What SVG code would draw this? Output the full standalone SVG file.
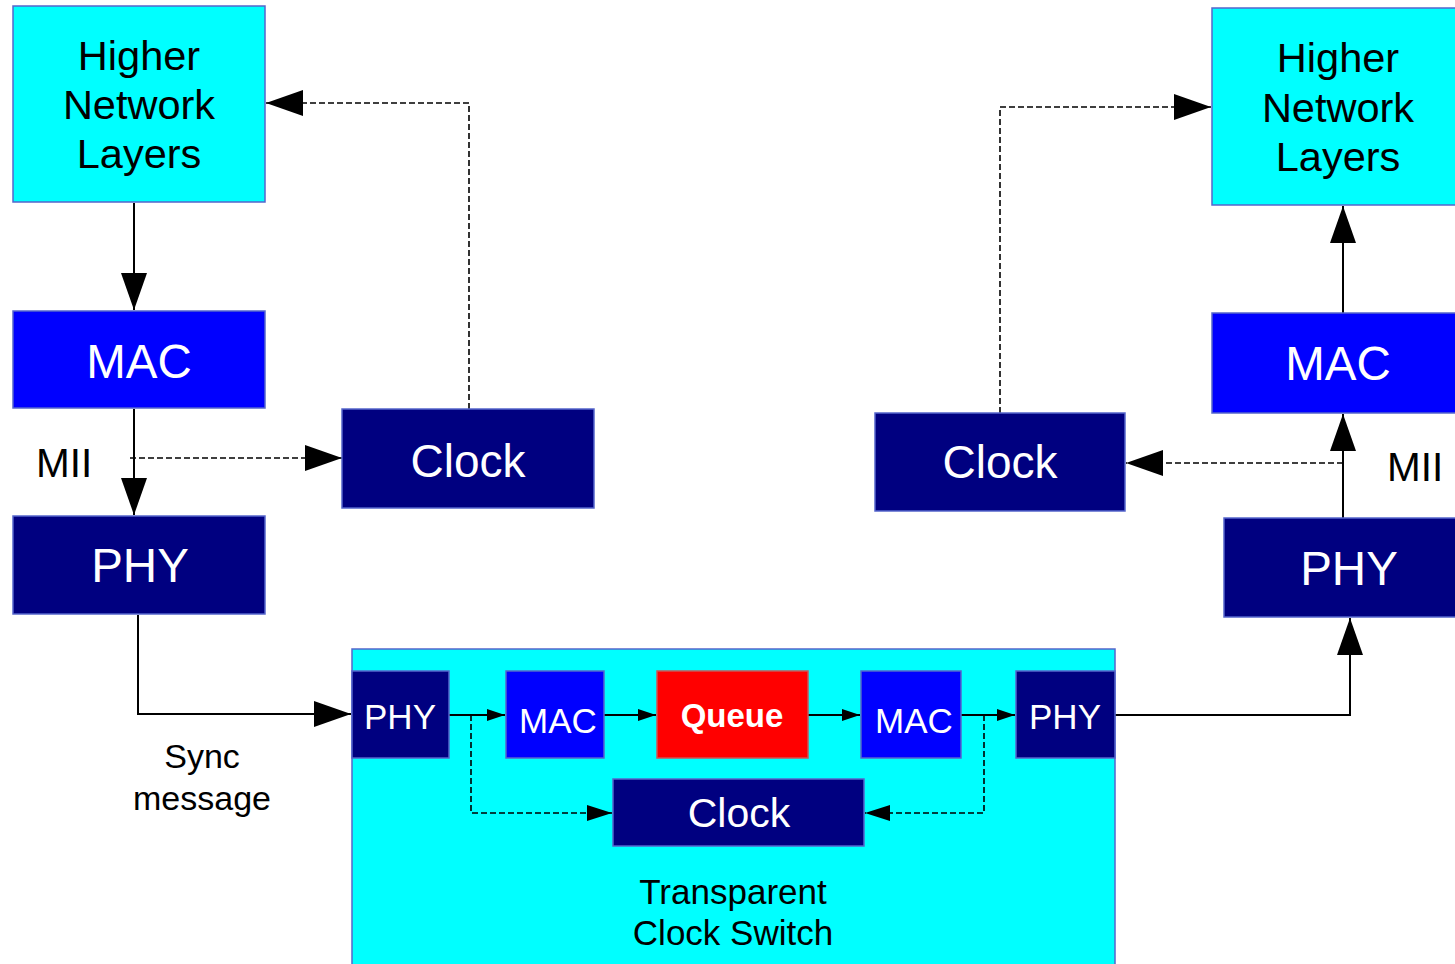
<svg xmlns="http://www.w3.org/2000/svg" width="1455" height="964" viewBox="0 0 1455 964">
<style>
  .cyan{fill:#00FFFF;stroke:#5566cc;stroke-width:1.5}
  .blue{fill:#0000FF;stroke:#5566cc;stroke-width:1.5}
  .navy{fill:#000080;stroke:#5566cc;stroke-width:1.5}
  .red{fill:#FF0000;stroke:#cc5555;stroke-width:1.5}
  text{font-family:"Liberation Sans",Arial,sans-serif;text-anchor:middle}
  .w{fill:#FFFFFF}
  .k{fill:#000000}
  .solid{fill:none;stroke:#000;stroke-width:2}
  .dash{fill:none;stroke:#000;stroke-width:1.6;stroke-dasharray:6 3}
</style>
<defs>
  <marker id="big" markerUnits="userSpaceOnUse" markerWidth="38" markerHeight="26" refX="37" refY="13" orient="auto">
    <path d="M0,0 L37,13 L0,26 z" fill="#000"/>
  </marker>
  <marker id="med" markerUnits="userSpaceOnUse" markerWidth="26" markerHeight="17" refX="25" refY="8" orient="auto">
    <path d="M0,0 L25,8 L0,16 z" fill="#000"/>
  </marker>
  <marker id="sm" markerUnits="userSpaceOnUse" markerWidth="19" markerHeight="12" refX="18" refY="6" orient="auto">
    <path d="M0,0 L18,6 L0,12 z" fill="#000"/>
  </marker>
</defs>
<rect width="1455" height="964" fill="#FFFFFF"/>

<g id="switch">
  <rect class="cyan" x="352" y="649" width="763" height="330"/>
  <text class="k" x="733" y="904" font-size="35">Transparent</text>
  <text class="k" x="733" y="945" font-size="35">Clock Switch</text>
</g>

<g id="connectors">
  <path class="solid" d="M134,203 V310" marker-end="url(#big)"/>
  <path class="solid" d="M134,409 V515" marker-end="url(#big)"/>
  <path class="dash" d="M130,458 H342" marker-end="url(#big)"/>
  <path class="dash" d="M469,409 V103 H266" marker-end="url(#big)"/>
  <path class="solid" d="M138,615 V714 H351" marker-end="url(#big)"/>
  <path class="solid" d="M449,715 H505" marker-end="url(#sm)"/>
  <path class="solid" d="M604,715 H656" marker-end="url(#sm)"/>
  <path class="solid" d="M808,715 H860" marker-end="url(#sm)"/>
  <path class="solid" d="M961,715 H1015" marker-end="url(#sm)"/>
  <path class="dash" d="M471,715 V813 H612" marker-end="url(#med)"/>
  <path class="dash" d="M984,715 V813 H865" marker-end="url(#med)"/>
  <path class="solid" d="M1115,715 H1350 V618" marker-end="url(#big)"/>
  <path class="solid" d="M1343,518 V414" marker-end="url(#big)"/>
  <path class="solid" d="M1343,313 V206" marker-end="url(#big)"/>
  <path class="dash" d="M1343,463 H1126" marker-end="url(#big)"/>
  <path class="dash" d="M1000,413 V107 H1211" marker-end="url(#big)"/>
</g>

<g id="hnl-left">
  <rect class="cyan" x="13" y="6" width="252" height="196"/>
  <text class="k" x="139" y="70" font-size="41.5">Higher</text>
  <text class="k" x="139" y="119" font-size="41.5">Network</text>
  <text class="k" x="139" y="168" font-size="41.5">Layers</text>
</g>
<g id="mac-left">
  <rect class="blue" x="13" y="311" width="252" height="97"/>
  <text class="w" x="139" y="378" font-size="47.5">MAC</text>
</g>
<g id="phy-left">
  <rect class="navy" x="13" y="516" width="252" height="98"/>
  <text class="w" x="140" y="582" font-size="47.5">PHY</text>
</g>
<g id="clock-left">
  <rect class="navy" x="342" y="409" width="252" height="99"/>
  <text class="w" x="468" y="477" font-size="46">Clock</text>
</g>
<g id="mii-left">
  <text class="k" x="36" y="477" font-size="40.5" style="text-anchor:start">MII</text>
</g>
<g id="sync-label">
  <text class="k" x="202" y="768" font-size="34">Sync</text>
  <text class="k" x="202" y="810" font-size="34">message</text>
</g>

<g id="sw-phy1">
  <rect class="navy" x="352" y="671" width="97" height="87"/>
  <text class="w" x="400" y="729" font-size="35">PHY</text>
</g>
<g id="sw-mac1">
  <rect class="blue" x="506" y="671" width="98" height="87"/>
  <text class="w" x="558" y="733" font-size="35">MAC</text>
</g>
<g id="sw-queue">
  <rect class="red" x="657" y="671" width="151" height="87"/>
  <text class="w" x="732" y="727" font-size="33" font-weight="bold">Queue</text>
</g>
<g id="sw-mac2">
  <rect class="blue" x="861" y="671" width="100" height="87"/>
  <text class="w" x="914" y="733" font-size="35">MAC</text>
</g>
<g id="sw-phy2">
  <rect class="navy" x="1016" y="671" width="99" height="87"/>
  <text class="w" x="1065" y="729" font-size="35">PHY</text>
</g>
<g id="sw-clock">
  <rect class="navy" x="613" y="779" width="251" height="67"/>
  <text class="w" x="739" y="827" font-size="41">Clock</text>
</g>

<g id="hnl-right">
  <rect class="cyan" x="1212" y="8" width="252" height="197"/>
  <text class="k" x="1338" y="72" font-size="41.5">Higher</text>
  <text class="k" x="1338" y="121.5" font-size="41.5">Network</text>
  <text class="k" x="1338" y="170.5" font-size="41.5">Layers</text>
</g>
<g id="mac-right">
  <rect class="blue" x="1212" y="313" width="252" height="100"/>
  <text class="w" x="1338" y="380" font-size="47.5">MAC</text>
</g>
<g id="phy-right">
  <rect class="navy" x="1224" y="518" width="252" height="99"/>
  <text class="w" x="1349" y="585" font-size="47.5">PHY</text>
</g>
<g id="clock-right">
  <rect class="navy" x="875" y="413" width="250" height="98"/>
  <text class="w" x="1000" y="478" font-size="46">Clock</text>
</g>
<g id="mii-right">
  <text class="k" x="1387" y="481" font-size="40.5" style="text-anchor:start">MII</text>
</g>
</svg>
